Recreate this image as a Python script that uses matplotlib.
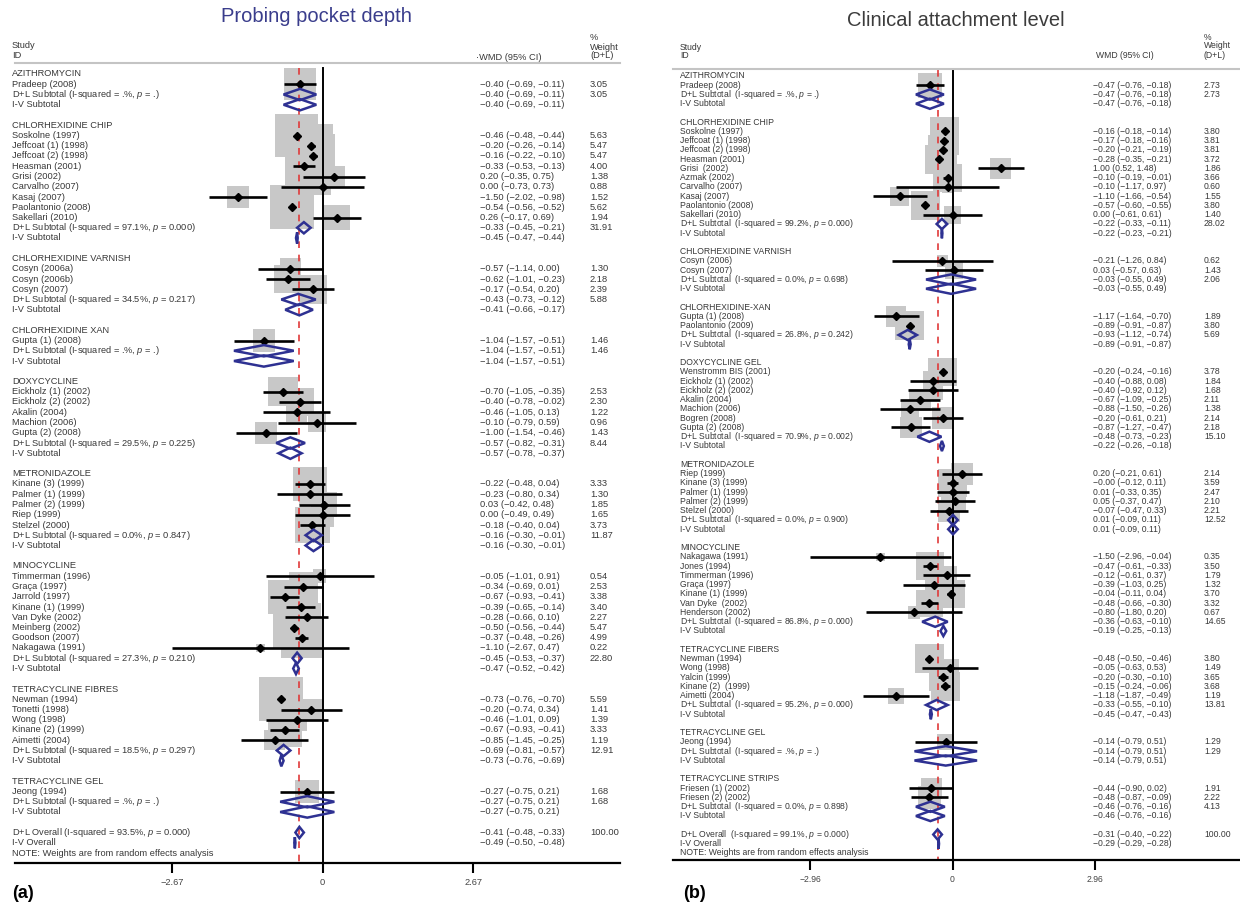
import matplotlib
matplotlib.use("Agg")
import matplotlib.pyplot as plt
from matplotlib.patches import Polygon
from matplotlib.transforms import blended_transform_factory

plt.rcParams['font.family'] = ['Liberation Sans', 'DejaVu Sans']
plt.rcParams['mathtext.fontset'] = 'custom'
plt.rcParams['mathtext.it'] = 'Liberation Sans:italic'
plt.rcParams['mathtext.rm'] = 'Liberation Sans'

# ------------------------------------------------------------------ data (a)
ppd_groups = ["AZITHROMYCIN", "CHLORHEXIDINE CHIP", "CHLORHEXIDINE VARNISH",
              "CHLORHEXIDINE XAN", "DOXYCYCLINE", "METRONIDAZOLE",
              "MINOCYCLINE", "TETRACYCLINE FIBRES", "TETRACYCLINE GEL"]
ppd_studies = [
    ["Pradeep (2008)"],
    ["Soskolne (1997)", "Jeffcoat (1) (1998)", "Jeffcoat (2) (1998)", "Heasman (2001)",
     "Grisi (2002)", "Carvalho (2007)", "Kasaj (2007)", "Paolantonio (2008)", "Sakellari (2010)"],
    ["Cosyn (2006a)", "Cosyn (2006b)", "Cosyn (2007)"],
    ["Gupta (1) (2008)"],
    ["Eickholz (1) (2002)", "Eickholz (2) (2002)", "Akalin (2004)", "Machion (2006)", "Gupta (2) (2008)"],
    ["Kinane (3) (1999)", "Palmer (1) (1999)", "Palmer (2) (1999)", "Riep (1999)", "Stelzel (2000)"],
    ["Timmerman (1996)", "Graça (1997)", "Jarrold (1997)", "Kinane (1) (1999)", "Van Dyke (2002)",
     "Meinberg (2002)", "Goodson (2007)", "Nakagawa (1991)"],
    ["Newman (1994)", "Tonetti (1998)", "Wong (1998)", "Kinane (2) (1999)", "Aimetti (2004)"],
    ["Jeong (1994)"],
]
ppd_est = [[-0.40],
           [-0.46, -0.20, -0.16, -0.33, 0.20, 0.00, -1.50, -0.54, 0.26],
           [-0.57, -0.62, -0.17],
           [-1.04],
           [-0.70, -0.40, -0.46, -0.10, -1.00],
           [-0.22, -0.23, 0.03, 0.00, -0.18],
           [-0.05, -0.34, -0.67, -0.39, -0.28, -0.50, -0.37, -1.10],
           [-0.73, -0.20, -0.46, -0.67, -0.85],
           [-0.27]]
ppd_lo = [[-0.69],
          [-0.48, -0.26, -0.22, -0.53, -0.35, -0.73, -2.02, -0.56, -0.17],
          [-1.14, -1.01, -0.54],
          [-1.57],
          [-1.05, -0.78, -1.05, -0.79, -1.54],
          [-0.48, -0.80, -0.42, -0.49, -0.40],
          [-1.01, -0.69, -0.93, -0.65, -0.66, -0.56, -0.48, -2.67],
          [-0.76, -0.74, -1.01, -0.93, -1.45],
          [-0.75]]
ppd_hi = [[-0.11],
          [-0.44, -0.14, -0.10, -0.13, 0.75, 0.73, -0.98, -0.52, 0.69],
          [0.00, -0.23, 0.20],
          [-0.51],
          [-0.35, -0.02, 0.13, 0.59, -0.46],
          [0.04, 0.34, 0.48, 0.49, 0.04],
          [0.91, 0.01, -0.41, -0.14, 0.10, -0.44, -0.26, 0.47],
          [-0.70, 0.34, 0.09, -0.41, -0.25],
          [0.21]]
ppd_wt = [[3.05],
          [5.63, 5.47, 5.47, 4.00, 1.38, 0.88, 1.52, 5.62, 1.94],
          [1.30, 2.18, 2.39],
          [1.46],
          [2.53, 2.30, 1.22, 0.96, 1.43],
          [3.33, 1.30, 1.85, 1.65, 3.73],
          [0.54, 2.53, 3.38, 3.40, 2.27, 5.47, 4.99, 0.22],
          [5.59, 1.41, 1.39, 3.33, 1.19],
          [1.68]]
ppd_i2 = [".", "97.1", "34.5", ".", "29.5", "0.0", "27.3", "18.5", "."]
ppd_p = [".", "0.000", "0.217", ".", "0.225", "0.847", "0.210", "0.297", "."]
ppd_dl_est = [-0.40, -0.33, -0.43, -1.04, -0.57, -0.16, -0.45, -0.69, -0.27]
ppd_dl_lo = [-0.69, -0.45, -0.73, -1.57, -0.82, -0.30, -0.53, -0.81, -0.75]
ppd_dl_hi = [-0.11, -0.21, -0.12, -0.51, -0.31, -0.01, -0.37, -0.57, 0.21]
ppd_dl_wt = [3.05, 31.91, 5.88, 1.46, 8.44, 11.87, 22.80, 12.91, 1.68]
ppd_iv_est = [-0.40, -0.45, -0.41, -1.04, -0.57, -0.16, -0.47, -0.73, -0.27]
ppd_iv_lo = [-0.69, -0.47, -0.66, -1.57, -0.78, -0.30, -0.52, -0.76, -0.75]
ppd_iv_hi = [-0.11, -0.44, -0.17, -0.51, -0.37, -0.01, -0.42, -0.69, 0.21]
ppd_overall_dl = [-0.41, -0.48, -0.33, 100.00]
ppd_overall_i2 = "93.5"
ppd_overall_p = "0.000"
ppd_overall_iv = [-0.49, -0.50, -0.48]
ppd_ticks = [-2.67, 0, 2.67]
ppd_ticklabels = ["\u22122.67", "0", "2.67"]

# ------------------------------------------------------------------ data (b)
cal_groups = ["AZITHROMYCIN", "CHLORHEXIDINE CHIP", "CHLORHEXIDINE VARNISH",
              "CHLORHEXIDINE-XAN", "DOXYCYCLINE GEL", "METRONIDAZOLE", "MINOCYCLINE",
              "TETRACYCLINE FIBERS", "TETRACYCLINE GEL", "TETRACYCLINE STRIPS"]
cal_studies = [
    ["Pradeep (2008)"],
    ["Soskolne (1997)", "Jeffcoat (1) (1998)", "Jeffcoat (2) (1998)", "Heasman (2001)",
     "Grisi  (2002)", "Azmak (2002)", "Carvalho (2007)", "Kasaj (2007)", "Paolantonio (2008)",
     "Sakellari (2010)"],
    ["Cosyn (2006)", "Cosyn (2007)"],
    ["Gupta (1) (2008)", "Paolantonio (2009)"],
    ["Wenstromm BIS (2001)", "Eickholz (1) (2002)", "Eickholz (2) (2002)", "Akalin (2004)",
     "Machion (2006)", "Bogren (2008)", "Gupta (2) (2008)"],
    ["Riep (1999)", "Kinane (3) (1999)", "Palmer (1) (1999)", "Palmer (2) (1999)", "Stelzel (2000)"],
    ["Nakagawa (1991)", "Jones (1994)", "Timmerman (1996)", "Graça (1997)", "Kinane (1) (1999)",
     "Van Dyke  (2002)", "Henderson (2002)"],
    ["Newman (1994)", "Wong (1998)", "Yalcin (1999)", "Kinane (2)  (1999)", "Aimetti (2004)"],
    ["Jeong (1994)"],
    ["Friesen (1) (2002)", "Friesen (2) (2002)"],
]
cal_est = [[-0.47],
           [-0.16, -0.17, -0.20, -0.28, 1.00, -0.10, -0.10, -1.10, -0.57, 0.00],
           [-0.21, 0.03],
           [-1.17, -0.89],
           [-0.20, -0.40, -0.40, -0.67, -0.88, -0.20, -0.87],
           [0.20, -0.00, 0.01, 0.05, -0.07],
           [-1.50, -0.47, -0.12, -0.39, -0.04, -0.48, -0.80],
           [-0.48, -0.05, -0.20, -0.15, -1.18],
           [-0.14],
           [-0.44, -0.48]]
cal_lo = [[-0.76],
          [-0.18, -0.18, -0.21, -0.35, 0.52, -0.19, -1.17, -1.66, -0.60, -0.61],
          [-1.26, -0.57],
          [-1.64, -0.91],
          [-0.24, -0.88, -0.92, -1.09, -1.50, -0.61, -1.27],
          [-0.21, -0.12, -0.33, -0.37, -0.47],
          [-2.96, -0.61, -0.61, -1.03, -0.11, -0.66, -1.80],
          [-0.50, -0.63, -0.30, -0.24, -1.87],
          [-0.79],
          [-0.90, -0.87]]
cal_hi = [[-0.18],
          [-0.14, -0.16, -0.19, -0.21, 1.48, -0.01, 0.97, -0.54, -0.55, 0.61],
          [0.84, 0.63],
          [-0.70, -0.87],
          [-0.16, 0.08, 0.12, -0.25, -0.26, 0.21, -0.47],
          [0.61, 0.11, 0.35, 0.47, 0.33],
          [-0.04, -0.33, 0.37, 0.25, 0.04, -0.30, 0.20],
          [-0.46, 0.53, -0.10, -0.06, -0.49],
          [0.51],
          [0.02, -0.09]]
cal_wt = [[2.73],
          [3.80, 3.81, 3.81, 3.72, 1.86, 3.66, 0.60, 1.55, 3.80, 1.40],
          [0.62, 1.43],
          [1.89, 3.80],
          [3.78, 1.84, 1.68, 2.11, 1.38, 2.14, 2.18],
          [2.14, 3.59, 2.47, 2.10, 2.21],
          [0.35, 3.50, 1.79, 1.32, 3.70, 3.32, 0.67],
          [3.80, 1.49, 3.65, 3.68, 1.19],
          [1.29],
          [1.91, 2.22]]
cal_i2 = [".", "99.2", "0.0", "26.8", "70.9", "0.0", "86.8", "95.2", ".", "0.0"]
cal_p = [".", "0.000", "0.698", "0.242", "0.002", "0.900", "0.000", "0.000", ".", "0.898"]
cal_dl_est = [-0.47, -0.22, -0.03, -0.93, -0.48, 0.01, -0.36, -0.33, -0.14, -0.46]
cal_dl_lo = [-0.76, -0.33, -0.55, -1.12, -0.73, -0.09, -0.63, -0.55, -0.79, -0.76]
cal_dl_hi = [-0.18, -0.11, 0.49, -0.74, -0.23, 0.11, -0.10, -0.10, 0.51, -0.16]
cal_dl_wt = [2.73, 28.02, 2.06, 5.69, 15.10, 12.52, 14.65, 13.81, 1.29, 4.13]
cal_iv_est = [-0.47, -0.22, -0.03, -0.89, -0.22, 0.01, -0.19, -0.45, -0.14, -0.46]
cal_iv_lo = [-0.76, -0.23, -0.55, -0.91, -0.26, -0.09, -0.25, -0.47, -0.79, -0.76]
cal_iv_hi = [-0.18, -0.21, 0.49, -0.87, -0.18, 0.11, -0.13, -0.43, 0.51, -0.16]
cal_overall_dl = [-0.31, -0.40, -0.22, 100.00]
cal_overall_i2 = "99.1"
cal_overall_p = "0.000"
cal_overall_iv = [-0.29, -0.29, -0.28]
cal_ticks = [-2.96, 0, 2.96]
cal_ticklabels = ["\u22122.96", "0", "2.96"]

# ------------------------------------------------------------------ styles
W, H = 1240, 909
TXT = '#383838'
NAVY = '#2e3192'
BOXC = '#c8c8c8'
RED = '#e03a3a'

fig = plt.figure(figsize=(W / 100, H / 100), dpi=100)


def fx(px):
    return px / W


def fy(py):
    return 1 - py / H


def fmt(v):
    return f"{v:.2f}".replace('-', '\u2212')


def ci_text(e, l, h):
    return f"{fmt(e)} ({fmt(l)}, {fmt(h)})"


def build_rows(groups, studies, est, lo, hi, wt, i2, pv, dle, dll, dlh, dlw,
               ive, ivl, ivh, ovdl, ovi2, ovp, oviv, gap):
    rows = []
    for g in range(len(groups)):
        rows.append(('group', groups[g]))
        for s in range(len(studies[g])):
            rows.append(('study', studies[g][s], est[g][s], lo[g][s], hi[g][s], wt[g][s]))
        lab = f"D+L Subtotal{gap}(I-squared = {i2[g]}%, $p$ = {pv[g]})"
        rows.append(('dl', lab, dle[g], dll[g], dlh[g], dlw[g]))
        rows.append(('iv', 'I-V Subtotal', ive[g], ivl[g], ivh[g], None))
        rows.append(('blank',))
    lab = f"D+L Overall{gap}(I-squared = {ovi2}%, $p$ = {ovp})"
    rows.append(('dl', lab, ovdl[0], ovdl[1], ovdl[2], ovdl[3]))
    rows.append(('iv', 'I-V Overall', oviv[0], oviv[1], oviv[2], None))
    rows.append(('note', 'NOTE: Weights are from random effects analysis'))
    return rows


def draw_panel(rows, ax_px, zero_px, unit_px, row1_px, row_px, name_x, val_x, wt_x,
               box_k, ticks, ticklabels, overall, fs):
    x0, x1, ytop, ybot = ax_px
    ax = fig.add_axes([fx(x0), fy(ybot), fx(x1) - fx(x0), fy(ytop) - fy(ybot)])
    ax.set_xlim((x0 - zero_px) / unit_px, (x1 - zero_px) / unit_px)
    r_top = 1 + (ytop - row1_px) / row_px
    r_bot = 1 + (ybot - row1_px) / row_px
    ax.set_ylim(r_bot, r_top)
    ax.set_facecolor('none')
    tr = blended_transform_factory(fig.transFigure, ax.transData)

    for i, row in enumerate(rows):
        y = i + 1
        kind = row[0]
        if kind == 'blank':
            continue
        if kind in ('group', 'note'):
            ax.text(fx(name_x), y, row[1], transform=tr, fontsize=fs, color=TXT,
                    va='center', ha='left', clip_on=False)
            continue
        name, e, l, h, w = row[1:]
        ax.text(fx(name_x), y, name, transform=tr, fontsize=fs, color=TXT,
                va='center', ha='left', clip_on=False)
        ax.text(fx(val_x), y, ci_text(e, l, h), transform=tr, fontsize=fs, color=TXT,
                va='center', ha='left', clip_on=False)
        if w is not None:
            ax.text(fx(wt_x), y, f"{w:.2f}", transform=tr, fontsize=fs, color=TXT,
                    va='center', ha='left', clip_on=False)
        if kind == 'study':
            ax.scatter([e], [y], s=box_k * w, marker='s', color=BOXC,
                       edgecolors='none', zorder=1)
            ax.plot([l, h], [y, y], color='black', lw=1.9, zorder=3,
                    solid_capstyle='butt')
            ax.plot([e], [y], marker='D', ms=4.2, color='black', zorder=4)
        else:
            hh = 0.55
            poly = Polygon([(l, y), (e, y - hh), (h, y), (e, y + hh)], closed=True,
                           fill=False, edgecolor=NAVY, lw=1.8, zorder=5)
            ax.add_patch(poly)

    ax.plot([0, 0], [0.4, r_bot], color='black', lw=1.4, zorder=2)
    ax.plot([overall, overall], [0.4, r_bot], color=RED, lw=1.2,
            ls=(0, (4, 4)), zorder=2)

    ax.set_yticks([])
    ax.set_xticks(ticks)
    ax.set_xticklabels(ticklabels)
    ax.tick_params(axis='x', direction='out', length=7, width=1.5, color='black',
                   labelsize=fs, labelcolor='#444444', pad=4)
    for s in ('left', 'right'):
        ax.spines[s].set_visible(False)
    ax.spines['bottom'].set_linewidth(1.6)
    ax.spines['bottom'].set_color('black')
    ax.spines['top'].set_linewidth(1.5)
    ax.spines['top'].set_color('#c4c4c4')
    return ax


ppd_rows = build_rows(ppd_groups, ppd_studies, ppd_est, ppd_lo, ppd_hi, ppd_wt, ppd_i2, ppd_p,
                      ppd_dl_est, ppd_dl_lo, ppd_dl_hi, ppd_dl_wt,
                      ppd_iv_est, ppd_iv_lo, ppd_iv_hi,
                      ppd_overall_dl, ppd_overall_i2, ppd_overall_p, ppd_overall_iv, ' ')
cal_rows = build_rows(cal_groups, cal_studies, cal_est, cal_lo, cal_hi, cal_wt, cal_i2, cal_p,
                      cal_dl_est, cal_dl_lo, cal_dl_hi, cal_dl_wt,
                      cal_iv_est, cal_iv_lo, cal_iv_hi,
                      cal_overall_dl, cal_overall_i2, cal_overall_p, cal_overall_iv, '  ')

FS_A = 6.7
FS_B = 6.2
draw_panel(ppd_rows, (15, 620, 63, 863), 322.5, 56.4, 74, 10.25, 12, 480, 590,
           177, ppd_ticks, ppd_ticklabels, ppd_overall_dl[0], FS_A)
draw_panel(cal_rows, (673, 1240, 69, 860), 952.5, 48.1, 76, 9.25, 680, 1093, 1204,
           115, cal_ticks, cal_ticklabels, cal_overall_dl[0], FS_B)

# titles
fig.text(fx(316), fy(17), "Probing pocket depth", fontsize=14.5, color='#3a3d8c',
         ha='center', va='center')
fig.text(fx(956), fy(20), "Clinical attachment level", fontsize=14.5, color='#3c3c3c',
         ha='center', va='center')

# column headers
for (x, y, t, fs) in [(12, 46, "Study", FS_A), (12, 56, "ID", FS_A),
                      (476, 57, "\u00b7WMD (95% CI)", FS_A),
                      (590, 38, "%", FS_A), (590, 47, "Weight", FS_A), (590, 56, "(D+L)", FS_A),
                      (680, 47, "Study", FS_B), (680, 56, "ID", FS_B),
                      (1096, 55, "WMD (95% CI)", FS_B),
                      (1204, 37, "%", FS_B), (1204, 46, "Weight", FS_B), (1204, 55, "(D+L)", FS_B)]:
    fig.text(fx(x), fy(y), t, fontsize=fs, color=TXT, ha='left', va='center')

fig.text(fx(12), fy(894), "(a)", fontsize=13, fontweight='bold', color='black',
         ha='left', va='center')
fig.text(fx(683), fy(894), "(b)", fontsize=13, fontweight='bold', color='black',
         ha='left', va='center')

fig.savefig("out.png", dpi=100, facecolor='white')
